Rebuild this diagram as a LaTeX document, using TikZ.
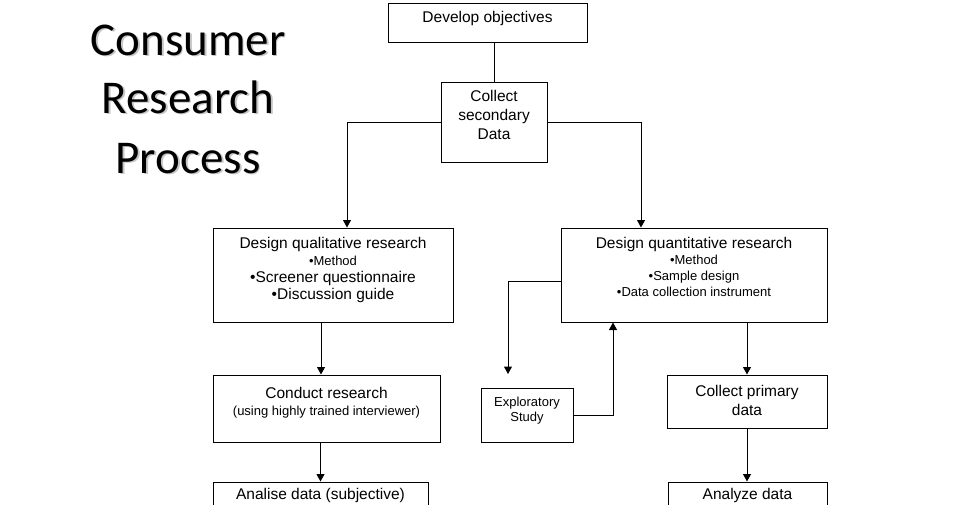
\documentclass[tikz,border=0pt]{standalone}
\usepackage{fontspec}
\setmainfont{Liberation Sans}
\newfontfamily\titlefont{Carlito}
\usetikzlibrary{positioning,calc,arrows.meta}

\tikzset{
  box/.style={draw, line width=1pt, inner sep=0pt},
  txt/.style={inner sep=0pt, align=center, anchor=north, font=\fontsize{15.5}{17}\selectfont},
  smalltxt/.style={inner sep=0pt, align=center, anchor=north, font=\fontsize{13}{16}\selectfont},
  arr/.style={line width=1pt, -{Triangle[length=7.5pt,width=8pt]}},
  link/.style={line width=1pt},
  heading/.style={inner sep=0pt, anchor=base, font=\titlefont\fontsize{47}{56}\selectfont},
}

\begin{document}
\begin{tikzpicture}[x=1pt,y=-1pt]
    \clip (0,0) rectangle (960,504);

    % title with its shadow
    \node[heading, gray!45] (title1s) at (189.8,56.8) {Consumer};
    \node[heading, gray!45] (title2s) at (189.8,114.8) {Research};
    \node[heading, gray!45] (title3s) at (189.8,174.8) {Process};
    \node[heading] (title1) at (188,55) {Consumer};
    \node[heading] (title2) at (188,113) {Research};
    \node[heading] (title3) at (188,173) {Process};

    % boxes
    \node[box, minimum width=199, minimum height=39] (dev) at (487.5,22.5) {};
    \node[box, minimum width=106, minimum height=80] (sec) at (494,122) {};
    \node[box, minimum width=240, minimum height=94] (qual) at (333,275) {};
    \node[box, minimum width=266, minimum height=94] (quant) at (694,275) {};
    \node[box, minimum width=227, minimum height=67] (conduct) at (326.5,408.5) {};
    \node[box, minimum width=92, minimum height=54] (explo) at (527,415) {};
    \node[box, minimum width=160, minimum height=53] (cpri) at (747,401.5) {};
    \node[box, minimum width=215, minimum height=58] (analise) at (320.5,511) {};
    \node[box, minimum width=159, minimum height=58] (analyze) at (747.5,511) {};

    % box texts
    \node[txt] (dev-t) at ([yshift=-8.5pt]dev.north) {Develop objectives};
    \node[txt, font=\fontsize{15.5}{18.7}\selectfont] (sec-t) at ([yshift=-9pt]sec.north) {Collect\\secondary\\Data};
    \node[txt] (qual-t) at ([yshift=-10pt]qual.north) {Design qualitative research\\{\fontsize{13}{16}\selectfont •Method}\\•Screener questionnaire\\•Discussion guide};
    \node[smalltxt] (quant-t) at ([yshift=-10pt]quant.north) {{\fontsize{15.5}{17}\selectfont Design quantitative research}\\•Method\\•Sample design\\•Data collection instrument};
    \node[txt] (conduct-t) at ([yshift=-13pt]conduct.north) {Conduct research\\{\fontsize{13}{16}\selectfont (using highly trained interviewer)}};
    \node[smalltxt, font=\fontsize{13}{14.5}\selectfont] (explo-t) at ([yshift=-9.5pt]explo.north) {Exploratory\\Study};
    \node[txt, font=\fontsize{15.5}{19}\selectfont] (cpri-t) at ([yshift=-11pt]cpri.north) {Collect primary\\data};
    \node[txt] (analise-t) at ([yshift=-7pt]analise.north) {Analise data (subjective)};
    \node[txt] (analyze-t) at ([yshift=-7pt]analyze.north) {Analyze data};

    % connectors
    \coordinate (qc) at ([xshift=-12pt]qual.south);
    \coordinate (explo-in) at (508,374);
    \draw[link] (sec.north) -- (sec.north |- dev.south);
    \draw[arr] (sec.west) -| ([xshift=14pt]qual.north);
    \draw[arr] (sec.east) -| ([xshift=-53pt]quant.north);
    \draw[arr] (qc) -- (qc |- conduct.north);
    \draw[arr] (analise.north |- conduct.south) -- (analise.north);
    \draw[arr] ([yshift=-6pt]quant.west) -| (explo-in);
    \draw[arr] (explo.east) -| ([xshift=-81pt]quant.south);
    \draw[arr] (cpri.north |- quant.south) -- (cpri.north);
    \draw[arr] (cpri.south) -- (cpri.south |- analyze.north);
\end{tikzpicture}
\end{document}
